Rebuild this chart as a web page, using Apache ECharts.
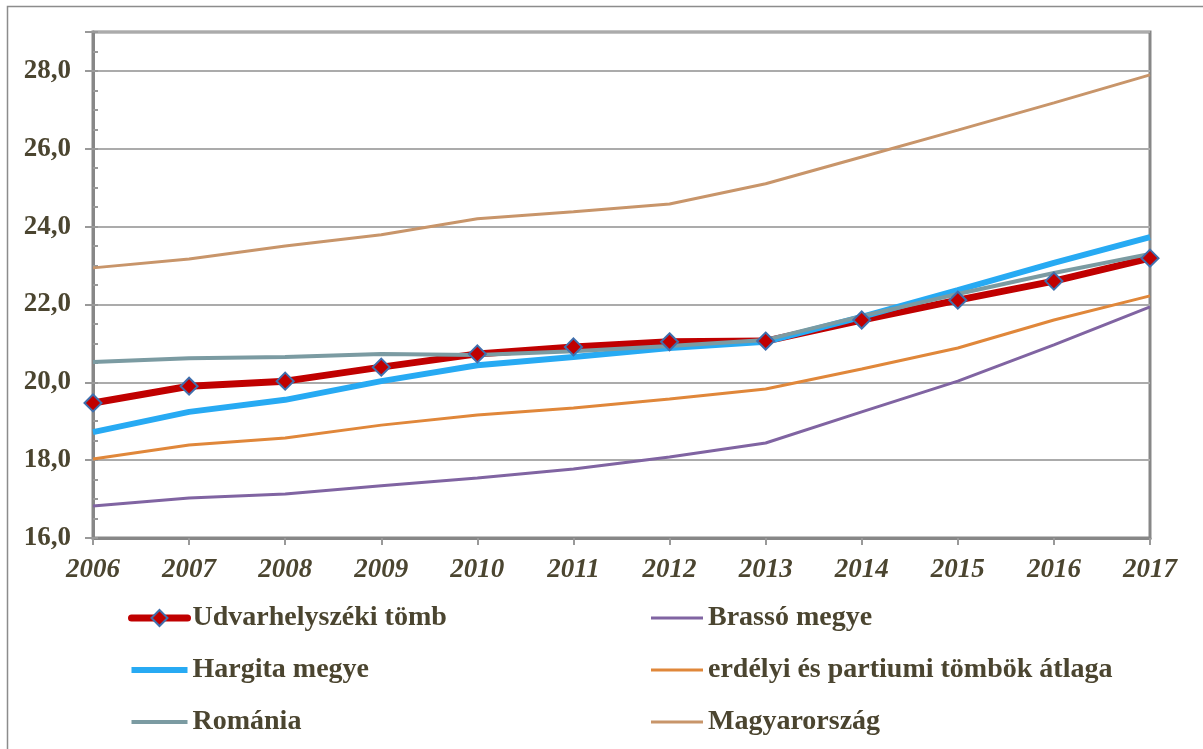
<!DOCTYPE html>
<html lang="hu">
<head>
    <meta charset="UTF-8" />
    <title>Udvarhelyszéki tömb</title>
    <script src="https://cdn.jsdelivr.net/npm/echarts@6/dist/echarts.min.js"></script>
    <style>
        html, body { margin: 0; padding: 0; background: #fff; }
        #chart { width: 1203px; height: 749px; }
    </style>
</head>
<body>
<div id="chart"></div>
<script>
    const years = ['2006', '2007', '2008', '2009', '2010', '2011', '2012', '2013', '2014', '2015', '2016', '2017'];

    const udvarhelyszek = [19.47, 19.90, 20.03, 20.39, 20.73, 20.91, 21.04, 21.06, 21.60, 22.11, 22.60, 23.19];
    const brasso = [16.82, 17.03, 17.13, 17.34, 17.54, 17.77, 18.08, 18.44, 19.24, 20.03, 20.96, 21.94];
    const hargita = [18.72, 19.24, 19.55, 20.03, 20.44, 20.65, 20.88, 21.04, 21.68, 22.37, 23.07, 23.73];
    const erdelyi = [18.03, 18.39, 18.57, 18.90, 19.16, 19.34, 19.57, 19.83, 20.34, 20.88, 21.60, 22.22];
    const romania = [20.52, 20.62, 20.65, 20.73, 20.70, 20.80, 20.93, 21.09, 21.70, 22.27, 22.81, 23.30];
    const magyarorszag = [22.94, 23.17, 23.50, 23.79, 24.20, 24.38, 24.58, 25.10, 25.79, 26.48, 27.18, 27.90];

    const textColor = '#4b4530';
    const axisColor = '#878787';
    const font = '"Liberation Serif", "DejaVu Serif", serif';

    // flat bar used as legend icon for the plain lines (thickness by ratio)
    const barIcon = h => 'path://M0,0h100v' + h + 'H0z';

    function plainLine(name, data, color, width) {
        return {
            name: name,
            type: 'line',
            data: data,
            symbol: 'none',
            lineStyle: { color: color, width: width },
            itemStyle: { color: color }
        };
    }

    const legendText = { fontFamily: font, fontWeight: 'bold', fontSize: 28, color: textColor };

    const chart = echarts.init(document.getElementById('chart'));

    chart.setOption({
        animation: false,
        backgroundColor: '#fff',
        graphic: [{
            type: 'rect',
            left: 5, top: 4,
            shape: { width: 1210, height: 760 },
            style: { fill: 'none', stroke: '#8c8c8c', lineWidth: 1.5 },
            silent: true
        }],
        grid: {
            left: 93, right: 53, top: 32, bottom: 211,
            show: true,
            borderColor: axisColor,
            borderWidth: 3
        },
        legend: [{
            orient: 'vertical',
            left: 123, top: 599,
            itemWidth: 56, itemHeight: 20, itemGap: 24,
            textStyle: legendText,
            data: [
                { name: 'Udvarhelyszéki tömb', lineStyle: { width: 7, cap: 'round' } },
                { name: 'Hargita megye', icon: barIcon(11) },
                { name: 'Románia', icon: barIcon(7) }
            ]
        }, {
            orient: 'vertical',
            left: 646, top: 599,
            itemWidth: 52, itemHeight: 16, itemGap: 24,
            textStyle: legendText,
            data: [
                { name: 'Brassó megye', icon: barIcon(6) },
                { name: 'erdélyi és partiumi tömbök átlaga', icon: barIcon(6) },
                { name: 'Magyarország', icon: barIcon(6) }
            ]
        }],
        xAxis: {
            type: 'category',
            data: years,
            boundaryGap: false,
            axisLine: { lineStyle: { color: axisColor, width: 3 } },
            axisTick: { alignWithLabel: true, length: 7, lineStyle: { color: '#999', width: 2 } },
            axisLabel: {
                margin: 19,
                fontFamily: font, fontWeight: 'bold', fontStyle: 'italic',
                fontSize: 27, color: textColor
            },
            splitLine: { show: false }
        },
        yAxis: [{
            type: 'value',
            min: 16, max: 29, interval: 2,
            axisLine: { show: true, lineStyle: { color: axisColor, width: 3 } },
            axisTick: { show: true, length: 8, lineStyle: { color: '#999', width: 2 } },
            axisLabel: {
                margin: 22,
                fontFamily: font, fontWeight: 'bold', fontSize: 27, color: textColor,
                formatter: v => v > 28 ? '' : v.toFixed(1).replace('.', ',')
            },
            splitLine: { lineStyle: { color: '#ababab', width: 2 } }
        }, {
            type: 'value',
            min: 16, max: 29, interval: 0.5,
            position: 'left',
            axisLine: { show: false },
            axisTick: { show: true, inside: true, length: 5, lineStyle: { color: '#999', width: 2 } },
            axisLabel: { show: false },
            splitLine: { show: false }
        }],
        series: [
            {
                name: 'Udvarhelyszéki tömb',
                type: 'line',
                data: udvarhelyszek,
                symbol: 'diamond',
                symbolSize: 17,
                showAllSymbol: true,
                lineStyle: { color: '#c00000', width: 7 },
                itemStyle: { color: '#c00000', borderColor: '#3f6fad', borderWidth: 2 }
            },
            plainLine('Brassó megye', brasso, '#8064a2', 3),
            plainLine('Hargita megye', hargita, '#27aaf3', 6),
            plainLine('erdélyi és partiumi tömbök átlaga', erdelyi, '#e0873a', 3),
            plainLine('Románia', romania, '#7b9ba2', 4),
            plainLine('Magyarország', magyarorszag, '#c8956a', 3)
        ]
    });
</script>
</body>
</html>
